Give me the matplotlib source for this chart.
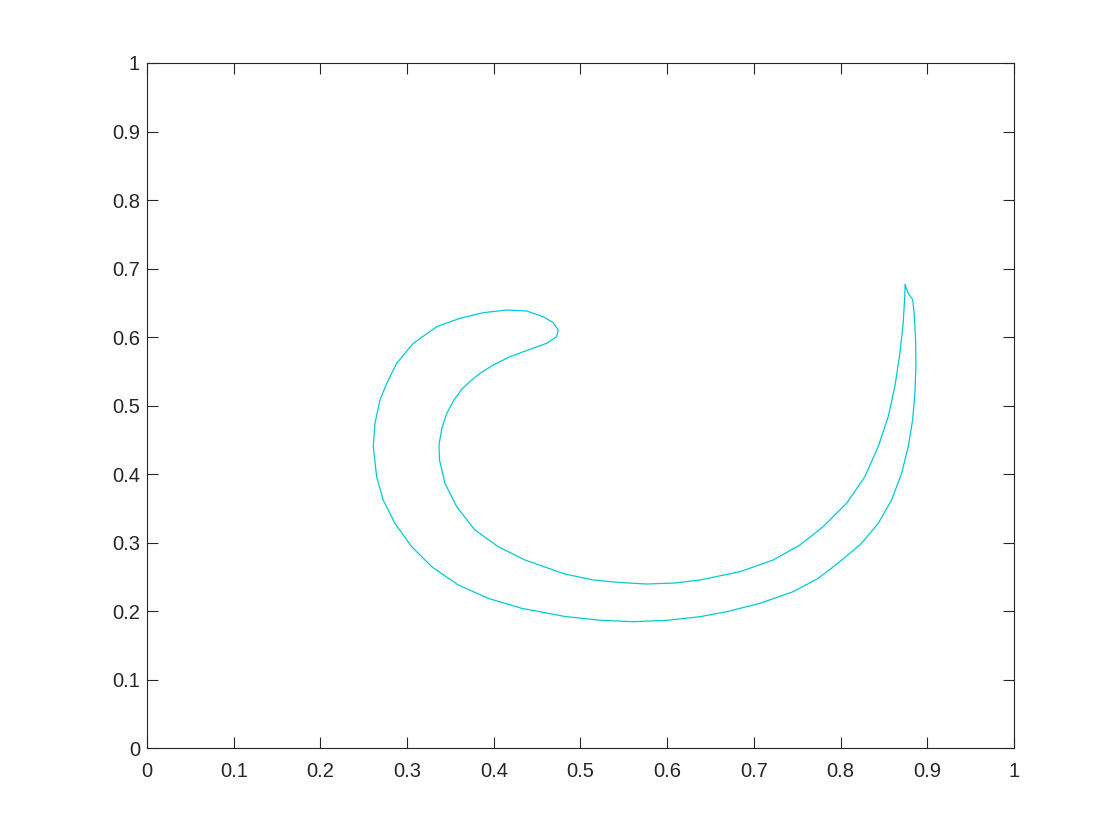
import matplotlib
matplotlib.use("Agg")
import matplotlib.pyplot as plt

# Closed boundary curve (x, y)
curve_x = [0.8746, 0.8781, 0.8832, 0.8850, 0.8866, 0.8870, 0.8858, 0.8832, 0.8781, 0.8705,
           0.8589, 0.8435, 0.8243, 0.7993, 0.7743, 0.7454, 0.7070, 0.6686, 0.6378, 0.5998,
           0.5609, 0.5225, 0.4821, 0.4322, 0.3937, 0.3591, 0.3284, 0.3053, 0.2860, 0.2725,
           0.2649, 0.2610, 0.2630, 0.2687, 0.2765, 0.2880, 0.3072, 0.3341, 0.3610, 0.3879,
           0.4149, 0.4379, 0.4571, 0.4686, 0.4744, 0.4725, 0.4610, 0.4418, 0.4187, 0.3994,
           0.3841, 0.3745, 0.3633, 0.3541, 0.3460, 0.3402, 0.3368, 0.3374, 0.3437, 0.3572,
           0.3783, 0.4052, 0.4360, 0.4821, 0.5148, 0.5456, 0.5764, 0.6090, 0.6378, 0.6840,
           0.7224, 0.7532, 0.7800, 0.8070, 0.8281, 0.8435, 0.8550, 0.8627, 0.8685, 0.8723,
           0.8739, 0.8746]
curve_y = [0.6759, 0.6638, 0.6550, 0.6346, 0.5956, 0.5566, 0.5178, 0.4788, 0.4399, 0.4010,
           0.3620, 0.3280, 0.2988, 0.2720, 0.2477, 0.2282, 0.2112, 0.1990, 0.1917, 0.1864,
           0.1844, 0.1866, 0.1920, 0.2039, 0.2185, 0.2380, 0.2647, 0.2939, 0.3280, 0.3620,
           0.3961, 0.4399, 0.4740, 0.5080, 0.5324, 0.5616, 0.5908, 0.6150, 0.6273, 0.6355,
           0.6394, 0.6380, 0.6296, 0.6209, 0.6102, 0.6004, 0.5908, 0.5820, 0.5712, 0.5591,
           0.5470, 0.5372, 0.5241, 0.5080, 0.4891, 0.4672, 0.4423, 0.4204, 0.3864, 0.3523,
           0.3182, 0.2939, 0.2745, 0.2540, 0.2453, 0.2416, 0.2394, 0.2409, 0.2453, 0.2574,
           0.2745, 0.2964, 0.3231, 0.3572, 0.3961, 0.4399, 0.4837, 0.5275, 0.5762, 0.6200,
           0.6540, 0.6759]

ticks = [0, 0.1, 0.2, 0.3, 0.4, 0.5, 0.6, 0.7, 0.8, 0.9, 1]
tick_labels = ["0", "0.1", "0.2", "0.3", "0.4", "0.5", "0.6", "0.7", "0.8", "0.9", "1"]

plt.rcParams['font.family'] = ['Liberation Sans', 'DejaVu Sans']

fig = plt.figure(figsize=(11.2, 8.4), dpi=100)
ax = fig.add_axes([0.13125, 0.1095, 0.774, 0.8155])
ax.plot(curve_x, curve_y, color=(0.0, 0.8, 0.82), linewidth=0.9,
        solid_joinstyle='round')
ax.set_xlim(0, 1)
ax.set_ylim(0, 1)
ax.set_xticks(ticks)
ax.set_xticklabels(tick_labels)
ax.set_yticks(ticks)
ax.set_yticklabels(tick_labels)
edge = (0.15, 0.15, 0.15)
for s in ax.spines.values():
    s.set_color(edge)
    s.set_linewidth(0.8)
ax.tick_params(direction='in', length=8, width=0.8, color=edge, labelcolor=edge,
               labelsize=14.5, top=True, right=True)
ax.tick_params(axis='x', pad=10)
ax.tick_params(axis='y', pad=5)
fig.savefig("out.png", dpi=100, facecolor='white')
